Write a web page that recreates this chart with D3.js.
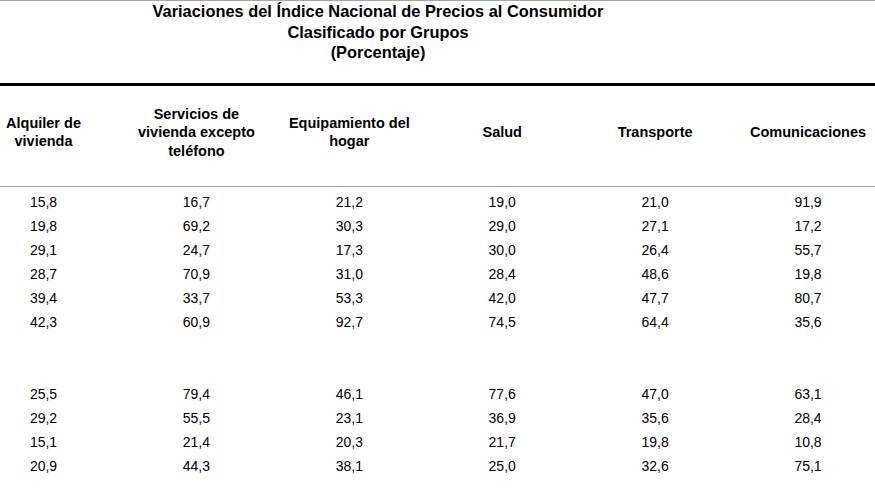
<!DOCTYPE html>
<html lang="es">
<head>
	<meta charset="utf-8">
	<title>Variaciones INPC por grupos</title>
	<script src="https://d3js.org/d3.v7.min.js"></script>
	<style>
		body { margin: 0; background: #fff; }
		svg text { font-family: Arial, "Liberation Sans", sans-serif; fill: #000; }
	</style>
</head>
<body>
<script>

// Titulos
var titleLines = ["Variaciones del Índice Nacional de Precios al Consumidor", "Clasificado por Grupos", "(Porcentaje)"];

// Encabezados de columna (con sus saltos de linea)
var groups = ["Alquiler de vivienda", "Servicios de vivienda excepto teléfono", "Equipamiento del hogar", "Salud", "Transporte", "Comunicaciones"];
var headerLines = [
	["Alquiler de", "vivienda"],
	["Servicios de", "vivienda excepto", "teléfono"],
	["Equipamiento del", "hogar"],
	["Salud"],
	["Transporte"],
	["Comunicaciones"]
];

// Valores por columna (null = fila vacia)
var alquiler       = [15.8, 19.8, 29.1, 28.7, 39.4, 42.3, null, null, 25.5, 29.2, 15.1, 20.9];
var servicios      = [16.7, 69.2, 24.7, 70.9, 33.7, 60.9, null, null, 79.4, 55.5, 21.4, 44.3];
var equipamiento   = [21.2, 30.3, 17.3, 31.0, 53.3, 92.7, null, null, 46.1, 23.1, 20.3, 38.1];
var salud          = [19.0, 29.0, 30.0, 28.4, 42.0, 74.5, null, null, 77.6, 36.9, 21.7, 25.0];
var transporte     = [21.0, 27.1, 26.4, 48.6, 47.7, 64.4, null, null, 47.0, 35.6, 19.8, 32.6];
var comunicaciones = [91.9, 17.2, 55.7, 19.8, 80.7, 35.6, null, null, 63.1, 28.4, 10.8, 75.1];

var columns = [alquiler, servicios, equipamiento, salud, transporte, comunicaciones];

var w = 875;
var h = 493;

var svg = d3.select("body").append("svg")
	.attr("width", w)
	.attr("height", h);

//Escalas
var xScale = d3.scalePoint()
	.domain(groups)
	.range([43.5, 808]);

var yScale = d3.scaleLinear()
	.domain([0, alquiler.length - 1])
	.range([207, 471]);

var es = d3.formatLocale({ decimal: ",", thousands: ".", grouping: [3], currency: ["", ""] });
var fmt = es.format(".1f");

//Lineas
svg.append("line")
	.attr("x1", 0).attr("x2", w)
	.attr("y1", 0.5).attr("y2", 0.5)
	.attr("stroke", "#a6a6a6").attr("stroke-width", 1);

svg.append("line")
	.attr("x1", 0).attr("x2", w)
	.attr("y1", 84.5).attr("y2", 84.5)
	.attr("stroke", "#000").attr("stroke-width", 3);

svg.append("line")
	.attr("x1", 0).attr("x2", w)
	.attr("y1", 186.5).attr("y2", 186.5)
	.attr("stroke", "#a6a6a6").attr("stroke-width", 1);

//Titulo
svg.append("g")
	.selectAll("text")
	.data(titleLines)
	.enter()
	.append("text")
	.attr("x", 378)
	.attr("y", function (d, i) { return 17 + i * 20.5; })
	.attr("text-anchor", "middle")
	.attr("font-size", "16.4px")
	.attr("font-weight", "bold")
	.text(function (d) { return d; });

//Encabezados
var lh = 18.5;
var head = svg.append("g")
	.selectAll("g")
	.data(groups)
	.enter()
	.append("g")
	.attr("transform", function (d) { return "translate(" + xScale(d) + ",0)"; });

head.selectAll("text")
	.data(function (d, i) {
		var lines = headerLines[i];
		return lines.map(function (t, j) { return { t: t, y: 137 + (j - (lines.length - 1) / 2) * lh }; });
	})
	.enter()
	.append("text")
	.attr("y", function (d) { return d.y; })
	.attr("text-anchor", "middle")
	.attr("font-size", "14.5px")
	.attr("font-weight", "bold")
	.text(function (d) { return d.t; });

//Celdas
var col = svg.append("g")
	.selectAll("g")
	.data(columns)
	.enter()
	.append("g")
	.attr("transform", function (d, i) { return "translate(" + xScale(groups[i]) + ",0)"; });

col.selectAll("text")
	.data(function (d) {
		return d.map(function (v, r) { return { v: v, r: r }; }).filter(function (c) { return c.v !== null; });
	})
	.enter()
	.append("text")
	.attr("y", function (d) { return yScale(d.r); })
	.attr("text-anchor", "middle")
	.attr("font-size", "14px")
	.text(function (d) { return fmt(d.v); });

</script>
</body>
</html>
